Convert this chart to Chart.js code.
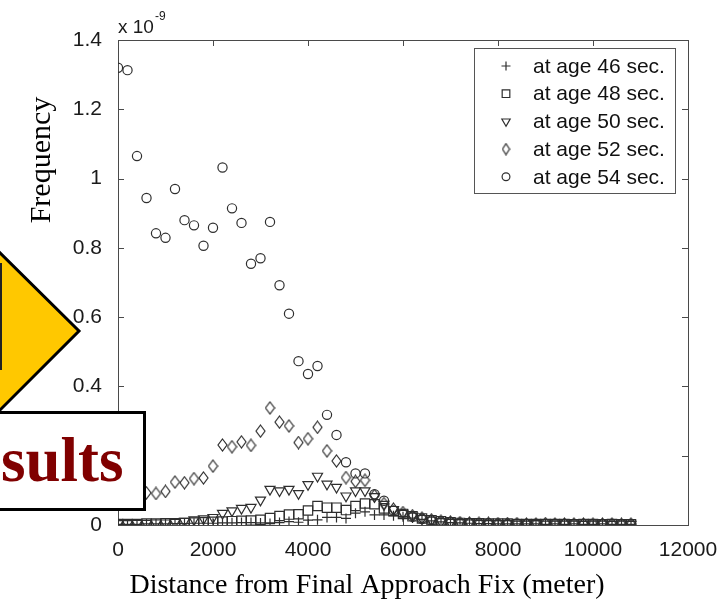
<!DOCTYPE html>
<html>
<head>
<meta charset="utf-8">
<script src="https://cdn.jsdelivr.net/npm/chart.js@4.4.0/dist/chart.umd.min.js"></script>
<style>
  html, body { margin: 0; padding: 0; background: #fff; }
  #wrap { position: relative; width: 719px; height: 611px; overflow: hidden; }
  #chart { position: absolute; left: 0; top: 0; }
  #arrow { position: absolute; left: 0; top: 0; }
  #results {
    position: absolute; left: -20px; top: 411px; width: 166px; height: 100px;
    box-sizing: border-box; border: 3px solid #000; background: #fff;
  }
  #results span {
    position: absolute; left: 18px; top: 15px;
    font: bold 63px "Liberation Serif", "Times New Roman", serif; line-height: 63px;
    color: #800000;
  }
</style>
</head>
<body>
<div id="wrap">
  <canvas id="chart" width="719" height="611"></canvas>
  <svg id="arrow" width="719" height="611">
    <polygon points="-10,243 79,331 -10,420" fill="#ffc800" stroke="#000" stroke-width="3"/>
    <line x1="1" y1="263" x2="1" y2="370" stroke="#222" stroke-width="2"/>
  </svg>
  <div id="results"><span>sults</span></div>
</div>
<script>
// distance from the final approach fix (meter), one bin every 200 m
const distances = [
  0, 200, 400, 600, 800, 1000, 1200, 1400, 1600, 1800,
  2000, 2200, 2400, 2600, 2800, 3000, 3200, 3400, 3600, 3800,
  4000, 4200, 4400, 4600, 4800, 5000, 5200, 5400, 5600, 5800,
  6000, 6200, 6400, 6600, 6800, 7000, 7200, 7400, 7600, 7800,
  8000, 8200, 8400, 8600, 8800, 9000, 9200, 9400, 9600, 9800,
  10000, 10200, 10400, 10600, 10800
];

// frequency, in units of 1e-9
const age46 = [
  0.002, 0.002, 0.002, 0.003, 0.003, 0.003, 0.004, 0.004, 0.005, 0.005,
  0.005, 0.006, 0.006, 0.007, 0.007, 0.006, 0.004, 0.007, 0.010, 0.008,
  0.014, 0.015, 0.022, 0.022, 0.019, 0.034, 0.038, 0.029, 0.029, 0.027,
  0.024, 0.020, 0.016, 0.012, 0.009, 0.007, 0.006, 0.005, 0.004, 0.004,
  0.003, 0.003, 0.003, 0.003, 0.003, 0.002, 0.003, 0.002, 0.003, 0.002,
  0.002, 0.003, 0.002, 0.002, 0.002
];
const age48 = [
  0.003, 0.003, 0.003, 0.004, 0.004, 0.005, 0.005, 0.006, 0.007, 0.008,
  0.009, 0.010, 0.011, 0.012, 0.013, 0.015, 0.020, 0.026, 0.030, 0.031,
  0.042, 0.055, 0.050, 0.050, 0.043, 0.055, 0.062, 0.060, 0.048, 0.040,
  0.032, 0.025, 0.019, 0.014, 0.011, 0.008, 0.006, 0.005, 0.005, 0.004,
  0.004, 0.004, 0.003, 0.003, 0.003, 0.003, 0.003, 0.003, 0.002, 0.003,
  0.003, 0.002, 0.003, 0.002, 0.002
];
const age50 = [
  0.004, 0.004, 0.005, 0.005, 0.006, 0.006, 0.008, 0.011, 0.015, 0.018,
  0.022, 0.034, 0.041, 0.048, 0.051, 0.072, 0.103, 0.099, 0.103, 0.091,
  0.117, 0.141, 0.118, 0.109, 0.084, 0.099, 0.099, 0.082, 0.060, 0.045,
  0.034, 0.026, 0.019, 0.014, 0.010, 0.008, 0.007, 0.006, 0.005, 0.004,
  0.004, 0.004, 0.003, 0.003, 0.004, 0.003, 0.003, 0.003, 0.003, 0.002,
  0.003, 0.003, 0.002, 0.003, 0.002
];
const age52 = [
  0.110, 0.100, 0.095, 0.093, 0.091, 0.097, 0.124, 0.122, 0.134, 0.136,
  0.170, 0.231, 0.226, 0.240, 0.230, 0.271, 0.338, 0.297, 0.286, 0.238,
  0.249, 0.282, 0.214, 0.185, 0.137, 0.126, 0.129, 0.085, 0.062, 0.046,
  0.036, 0.027, 0.020, 0.015, 0.011, 0.009, 0.007, 0.006, 0.005, 0.005,
  0.004, 0.004, 0.004, 0.003, 0.003, 0.004, 0.003, 0.003, 0.003, 0.003,
  0.002, 0.003, 0.003, 0.002, 0.003
];
const age54 = [
  1.320, 1.313, 1.065, 0.944, 0.842, 0.829, 0.970, 0.880, 0.865, 0.806,
  0.858, 1.032, 0.914, 0.872, 0.754, 0.770, 0.875, 0.692, 0.610, 0.473,
  0.436, 0.459, 0.318, 0.260, 0.181, 0.149, 0.149, 0.089, 0.070, 0.042,
  0.032, 0.024, 0.018, 0.013, 0.010, 0.008, 0.007, 0.006, 0.005, 0.005,
  0.004, 0.004, 0.004, 0.003, 0.003, 0.004, 0.003, 0.003, 0.003, 0.002,
  0.003, 0.003, 0.002, 0.003, 0.002
];

const seriesNames = ['at age 46 sec.', 'at age 48 sec.', 'at age 50 sec.', 'at age 52 sec.', 'at age 54 sec.'];
const xTicks = [0, 2000, 4000, 6000, 8000, 10000, 12000];
const yTicks = [0, 0.2, 0.4, 0.6, 0.8, 1, 1.2, 1.4];

const INK = '#2e2e2e';

function diamond(w, h) {
  const c = document.createElement('canvas');
  c.width = w + 2;
  c.height = h + 2;
  const g = c.getContext('2d');
  g.strokeStyle = INK;
  g.lineWidth = 1.2;
  g.beginPath();
  g.moveTo(c.width / 2, 1);
  g.lineTo(c.width - 1, c.height / 2);
  g.lineTo(c.width / 2, c.height - 1);
  g.lineTo(1, c.height / 2);
  g.closePath();
  g.stroke();
  return c;
}

const markers = [
  { style: 'cross', radius: 5, rotation: 0, legendRadius: 4.5 },
  { style: 'rect', radius: 6.6, rotation: 0, legendRadius: 5.4 },
  { style: 'triangle', radius: 5.8, rotation: 180, legendRadius: 4.8 },
  { style: diamond(9, 12), radius: 5, rotation: 0, legendStyle: diamond(7, 11), legendRadius: 5 },
  { style: 'circle', radius: 4.6, rotation: 0, legendRadius: 3.9 },
];

function pairs(values) {
  return distances.map((d, i) => ({ x: d, y: values[i] }));
}

const datasets = [age46, age48, age50, age52, age54].map((vals, i) => ({
  label: seriesNames[i],
  data: pairs(vals),
  showLine: false,
  pointStyle: markers[i].style,
  pointRadius: markers[i].radius,
  pointHoverRadius: markers[i].radius,
  pointRotation: markers[i].rotation,
  pointBorderWidth: 1.2,
  pointBorderColor: INK,
  pointBackgroundColor: 'rgba(0,0,0,0)',
}));

const AX = '#4a4a4a';

// axes box with inward ticks, MATLAB style
const matlabAxes = {
  id: 'matlabAxes',
  beforeDatasetsDraw(chart) {
    const { ctx, chartArea: a, scales } = chart;
    ctx.save();
    ctx.strokeStyle = AX;
    ctx.lineWidth = 1;
    ctx.strokeRect(Math.round(a.left) + 0.5, Math.round(a.top) + 0.5,
      Math.round(a.right - a.left), Math.round(a.bottom - a.top));
    ctx.beginPath();
    xTicks.forEach(v => {
      const x = Math.round(scales.x.getPixelForValue(v)) + 0.5;
      ctx.moveTo(x, a.bottom); ctx.lineTo(x, a.bottom - 6);
      ctx.moveTo(x, a.top); ctx.lineTo(x, a.top + 6);
    });
    yTicks.forEach(v => {
      const y = Math.round(scales.y.getPixelForValue(v)) + 0.5;
      ctx.moveTo(a.left, y); ctx.lineTo(a.left + 6, y);
      ctx.moveTo(a.right, y); ctx.lineTo(a.right - 6, y);
    });
    ctx.stroke();
    ctx.restore();
  },
  afterDraw(chart) {
    const { ctx, chartArea: a } = chart;
    ctx.save();
    ctx.fillStyle = '#1a1a1a';

    // exponent
    ctx.font = '19px "Liberation Sans", Arial, sans-serif';
    ctx.textAlign = 'left';
    ctx.textBaseline = 'alphabetic';
    ctx.fillText('x 10', a.left, 33);
    const w = ctx.measureText('x 10').width;
    ctx.font = '12px "Liberation Sans", Arial, sans-serif';
    ctx.fillText('-9', a.left + w + 1, 20);

    // axis titles
    ctx.fillStyle = '#000';
    ctx.font = '28px "Liberation Serif", "Times New Roman", serif';
    ctx.textAlign = 'center';
    ctx.fillText('Distance from Final Approach Fix (meter)', 367, 593);
    ctx.translate(50, 160);
    ctx.rotate(-Math.PI / 2);
    ctx.font = '30px "Liberation Serif", "Times New Roman", serif';
    ctx.fillText('Frequency', 0, 0);
    ctx.restore();

    // legend
    ctx.save();
    ctx.fillStyle = '#fff';
    ctx.fillRect(474, 48, 202, 146);
    ctx.strokeStyle = '#555';
    ctx.lineWidth = 1;
    ctx.strokeRect(474.5, 48.5, 201, 145);
    ctx.font = '21px "Liberation Sans", Arial, sans-serif';
    ctx.textAlign = 'left';
    ctx.textBaseline = 'middle';
    seriesNames.forEach((name, i) => {
      const y = 66 + i * 27.7;
      const m = markers[i];
      ctx.strokeStyle = INK;
      ctx.fillStyle = 'rgba(0,0,0,0)';
      ctx.lineWidth = 1.2;
      Chart.helpers.drawPoint(ctx, {
        pointStyle: m.legendStyle || m.style,
        rotation: m.rotation,
        radius: m.legendRadius,
        borderWidth: 1.2,
      }, 506, y);
      ctx.fillStyle = '#111';
      ctx.fillText(name, 533, y + 1);
    });
    ctx.restore();
  }
};

new Chart(document.getElementById('chart'), {
  type: 'scatter',
  data: { datasets },
  options: {
    responsive: false,
    animation: false,
    events: [],
    layout: { padding: { left: 0, top: 40, right: 31, bottom: 0 } },
    plugins: { legend: { display: false }, tooltip: { enabled: false } },
    scales: {
      x: {
        type: 'linear',
        min: 0,
        max: 12000,
        grid: { display: false },
        border: { display: false },
        afterBuildTicks: s => { s.ticks = xTicks.map(v => ({ value: v })); },
        afterFit: s => { s.height = 86; s.paddingLeft = 0; s.paddingRight = 0; },
        ticks: {
          autoSkip: false,
          maxRotation: 0,
          padding: 5,
          color: '#1a1a1a',
          font: { family: '"Liberation Sans", Arial, sans-serif', size: 21 },
          callback: v => String(v),
        },
      },
      y: {
        min: 0,
        max: 1.4,
        grid: { display: false },
        border: { display: false },
        afterBuildTicks: s => { s.ticks = yTicks.map(v => ({ value: v })); },
        afterFit: s => { s.width = 118; s.paddingTop = 0; s.paddingBottom = 0; },
        ticks: {
          autoSkip: false,
          padding: 8,
          color: '#1a1a1a',
          font: { family: '"Liberation Sans", Arial, sans-serif', size: 21 },
          callback: v => String(Number(v.toFixed(1))),
        },
      },
    },
  },
  plugins: [matlabAxes],
});
</script>
</body>
</html>
